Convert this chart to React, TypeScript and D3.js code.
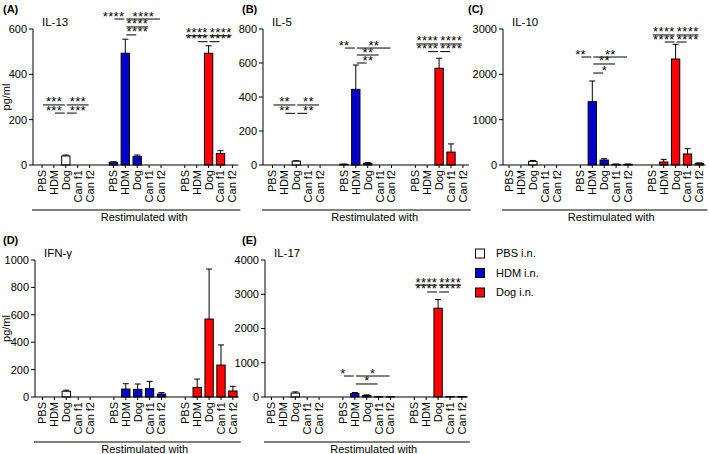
import React from "react";
import * as d3 from "d3";

// ---------- data ----------
const groups = ["PBS i.n.", "HDM i.n.", "Dog i.n."];
const restim = ["PBS", "HDM", "Dog", "Can f1", "Can f2"];
const groupColors = ["#ffffff", "#0000cc", "#ff0000"];

// means [group][restim], error = upper end of SEM bar
const il13Mean = [[0, 0, 40, 0, 0], [12, 493, 38, 0, 0], [0, 0, 493, 51, 0]];
const il13Err = [[0, 0, 44, 0, 0], [14, 555, 44, 0, 0], [0, 0, 526, 63, 0]];
const il5Mean = [[0, 0, 23, 0, 0], [4, 445, 10, 0, 0], [0, 0, 569, 76, 0]];
const il5Err = [[0, 0, 25, 0, 0], [5, 588, 14, 0, 0], [0, 0, 628, 124, 0]];
const il10Mean = [[0, 0, 80, 0, 0], [0, 1397, 110, 15, 15], [0, 66, 2338, 243, 37]];
const il10Err = [[0, 0, 100, 0, 0], [0, 1853, 140, 20, 20], [0, 125, 2662, 360, 45]];
const ifngMean = [[0, 0, 42, 0, 0], [0, 58, 56, 61, 22], [0, 70, 569, 233, 44]];
const ifngErr = [[0, 0, 50, 0, 0], [0, 97, 95, 114, 32], [0, 131, 934, 380, 78]];
const il17Mean = [[0, 0, 115, 0, 0], [0, 100, 45, 5, 5], [0, 0, 2592, 10, 10]];
const il17Err = [[0, 0, 150, 0, 0], [0, 130, 60, 8, 8], [0, 0, 2845, 14, 14]];

const il13Ticks = [0, 200, 400, 600];
const il5Ticks = [0, 200, 400, 600, 800];
const il10Ticks = [0, 1000, 2000, 3000];
const ifngTicks = [0, 200, 400, 600, 800, 1000];
const il17Ticks = [0, 1000, 2000, 3000, 4000];

// significance: [group, reference, compared, stars, level (pg/ml)]
type Sig = [number, string, string, string, number];
const il13Sig: Sig[] = [
  [0, "Dog", "PBS", "***", 265], [0, "Dog", "Can f2", "***", 265],
  [0, "Dog", "HDM", "***", 229], [0, "Dog", "Can f1", "***", 229],
  [1, "HDM", "PBS", "****", 644], [1, "HDM", "Can f2", "****", 644],
  [1, "HDM", "Can f1", "****", 609], [1, "HDM", "Dog", "****", 574],
  [2, "Dog", "PBS", "****", 570], [2, "Dog", "Can f2", "****", 570],
  [2, "Dog", "HDM", "****", 544], [2, "Dog", "Can f1", "****", 544],
];
const il5Sig: Sig[] = [
  [0, "Dog", "PBS", "**", 353], [0, "Dog", "Can f2", "**", 353],
  [0, "Dog", "HDM", "**", 304], [0, "Dog", "Can f1", "**", 304],
  [1, "HDM", "PBS", "**", 688], [1, "HDM", "Can f2", "**", 688],
  [1, "HDM", "Can f1", "**", 647], [1, "HDM", "Dog", "**", 600],
  [2, "Dog", "PBS", "****", 712], [2, "Dog", "Can f2", "****", 712],
  [2, "Dog", "HDM", "****", 667], [2, "Dog", "Can f1", "****", 667],
];
const il10Sig: Sig[] = [
  [1, "HDM", "PBS", "**", 2382], [1, "HDM", "Can f2", "**", 2382],
  [1, "HDM", "Can f1", "**", 2228], [1, "HDM", "Dog", "*", 2029],
  [2, "Dog", "PBS", "****", 2868], [2, "Dog", "Can f2", "****", 2868],
  [2, "Dog", "HDM", "****", 2713], [2, "Dog", "Can f1", "****", 2713],
];
const ifngSig: Sig[] = [];
const il17Sig: Sig[] = [
  [1, "HDM", "PBS", "*", 613], [1, "HDM", "Can f2", "*", 613],
  [1, "HDM", "Can f1", "*", 380],
  [2, "Dog", "PBS", "****", 3270], [2, "Dog", "Can f2", "****", 3270],
  [2, "Dog", "HDM", "****", 3066], [2, "Dog", "Can f1", "****", 3066],
];

// ---------- layout ----------
const FONT = "'Liberation Sans', Arial, Helvetica, sans-serif";
const STEP = 11.9;

const panels = [
  { letter: "(A)", title: "IL-13", mean: il13Mean, err: il13Err, ticks: il13Ticks, sig: il13Sig, lx: 3, axisX: 33, x0: 42, yTop: 29, yZero: 165, ylabel: true },
  { letter: "(B)", title: "IL-5", mean: il5Mean, err: il5Err, ticks: il5Ticks, sig: il5Sig, lx: 242, axisX: 263, x0: 272.5, yTop: 29, yZero: 165, ylabel: false },
  { letter: "(C)", title: "IL-10", mean: il10Mean, err: il10Err, ticks: il10Ticks, sig: il10Sig, lx: 468, axisX: 503, x0: 509, yTop: 29, yZero: 165, ylabel: false },
  { letter: "(D)", title: "IFN-\u03b3", mean: ifngMean, err: ifngErr, ticks: ifngTicks, sig: ifngSig, lx: 3, axisX: 35, x0: 42.5, yTop: 260, yZero: 397, ylabel: true },
  { letter: "(E)", title: "IL-17", mean: il17Mean, err: il17Err, ticks: il17Ticks, sig: il17Sig, lx: 242, axisX: 265, x0: 271.5, yTop: 260, yZero: 397, ylabel: false },
];

const slotKeys = d3.range(17).map(String);

function Panel({ p }: { p: typeof panels[number] }) {
  const x = d3
    .scaleBand<string>()
    .domain(slotKeys)
    .range([p.x0 - STEP / 2, p.x0 + 16 * STEP + STEP / 2])
    .paddingInner(0.3)
    .paddingOuter(0.15);
  const bw = x.bandwidth();
  const cx = (k: number) => (x(String(k)) as number) + bw / 2;
  const ymax = p.ticks[p.ticks.length - 1];
  const y = d3.scaleLinear().domain([0, ymax]).range([p.yZero, p.yTop]);
  const slotOf = (g: number, r: number) => g * 6 + r;
  const xEnd = cx(16) + STEP / 2;
  const bracketY = p.yZero + 45;

  const bars: JSX.Element[] = [];
  const labels: JSX.Element[] = [];
  groups.forEach((_, g) => {
    restim.forEach((r, ri) => {
      const k = slotOf(g, ri);
      const v = p.mean[g][ri];
      const e = p.err[g][ri];
      const c = cx(k);
      if (v > 0) {
        bars.push(
          <rect key={`b${k}`} x={x(String(k))} y={y(v)} width={bw} height={y(0) - y(v)}
            fill={groupColors[g]} stroke="#000" strokeWidth={1} />
        );
        if (e > v) {
          bars.push(
            <g key={`e${k}`} stroke="#000" strokeWidth={1}>
              <line x1={c} x2={c} y1={y(v)} y2={y(e)} />
              <line x1={c - 3} x2={c + 3} y1={y(e)} y2={y(e)} />
            </g>
          );
        }
      }
      labels.push(
        <g key={`l${k}`}>
          <line x1={c} x2={c} y1={p.yZero} y2={p.yZero + 3} stroke="#000" />
          <text transform={`translate(${c},${p.yZero + 5}) rotate(-90)`} textAnchor="end" dy="0.36em"
            fontSize={11} fontFamily={FONT}>{r}</text>
        </g>
      );
    });
  });

  const sigs = p.sig.map((s, i) => {
    const [g, ref, other, stars, level] = s;
    const kr = slotOf(g, restim.indexOf(ref));
    const ko = slotOf(g, restim.indexOf(other));
    const x1 = cx(Math.min(kr, ko));
    const x2 = cx(Math.max(kr, ko));
    const ly = y(level);
    const tx = Math.abs(kr - ko) === 1 ? cx(ko) : (x1 + x2) / 2;
    return (
      <g key={`s${i}`}>
        <line x1={x1 + 1} x2={x2 - 1} y1={ly} y2={ly} stroke="#000" strokeWidth={1} />
        <text x={tx + 0.2} y={ly + 1.5} textAnchor="middle" fontSize={13} letterSpacing={0.4}
          fontFamily={FONT}>{stars}</text>
      </g>
    );
  });

  return (
    <g>
      <text x={p.lx} y={p.yTop - 16} fontSize={11} fontWeight="bold" fontFamily={FONT}>{p.letter}</text>
      <text x={p.axisX + 9} y={p.yTop - 3} fontSize={11.5} fontFamily={FONT}>{p.title}</text>
      {p.ylabel && (
        <text transform={`translate(10,${(p.yTop + p.yZero) / 2}) rotate(-90)`} textAnchor="middle"
          fontSize={11} fontFamily={FONT}>pg/ml</text>
      )}
      <line x1={p.axisX} x2={p.axisX} y1={y(ymax)} y2={y(0)} stroke="#000" strokeWidth={1} />
      {p.ticks.map((t) => (
        <g key={`t${t}`}>
          <line x1={p.axisX - 4} x2={p.axisX} y1={y(t)} y2={y(t)} stroke="#000" />
          <text x={p.axisX - 6} y={y(t)} dy="0.36em" textAnchor="end" fontSize={11} fontFamily={FONT}>{t}</text>
        </g>
      ))}
      {bars}
      <line x1={p.axisX} x2={xEnd} y1={p.yZero} y2={p.yZero} stroke="#000" strokeWidth={1} />
      {labels}
      {sigs}
      <line x1={p.axisX - 1} x2={xEnd + 2} y1={bracketY} y2={bracketY} stroke="#000" strokeWidth={1} />
      <text x={cx(8) + 7} y={bracketY + 11} textAnchor="middle" fontSize={11} fontFamily={FONT}>Restimulated with</text>
    </g>
  );
}

export default function App() {
  const legendY = d3.scalePoint<string>().domain(groups).range([253.5, 292.5]);
  return (
    <svg width={709} height={454} style={{ position: "absolute", left: 0, top: 0, background: "#fff" }}>
      <rect width={709} height={454} fill="#fff" />
      {panels.map((p) => <Panel key={p.letter} p={p} />)}
      {groups.map((g, i) => (
        <g key={g}>
          <rect x={475.5} y={(legendY(g) as number) - 4.5} width={9} height={9} fill={groupColors[i]} stroke="#000" />
          <text x={496} y={(legendY(g) as number)} dy="0.36em" fontSize={11} fontFamily={FONT}>{g}</text>
        </g>
      ))}
    </svg>
  );
}
